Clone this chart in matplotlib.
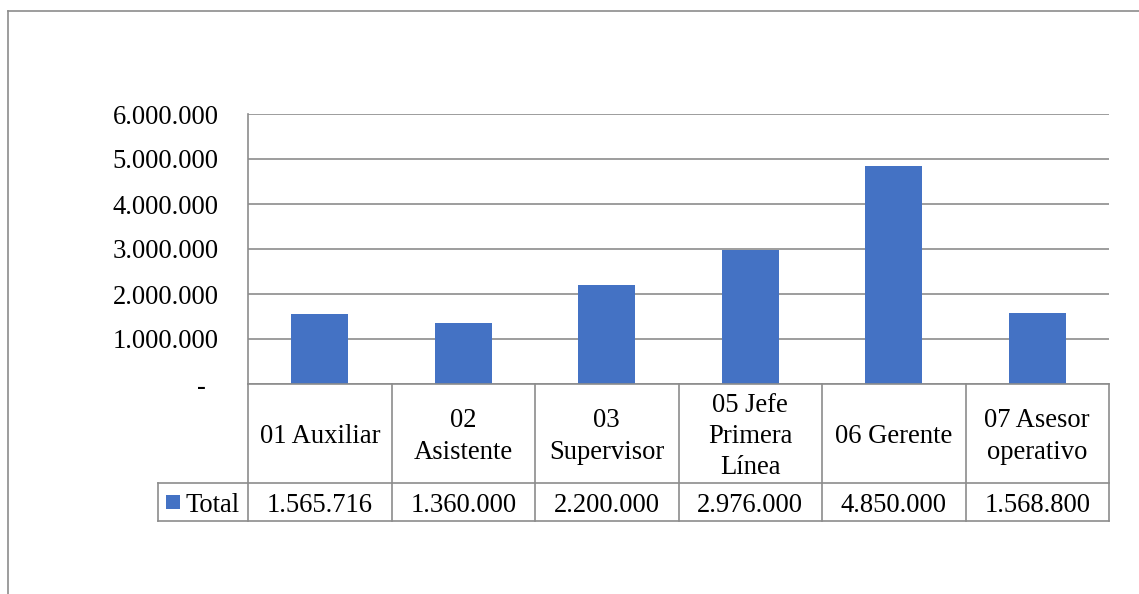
import matplotlib
matplotlib.use("Agg")
import matplotlib.pyplot as plt
from matplotlib.lines import Line2D
from matplotlib.patches import Rectangle
import matplotlib.transforms as mtransforms

categories = ["01 Auxiliar", "02\nAsistente", "03\nSupervisor", "05 Jefe\nPrimera\nLínea",
              "06 Gerente", "07 Asesor\noperativo"]
values = [1565716, 1360000, 2200000, 2976000, 4850000, 1568800]
series_name = "Total"
yticks = [0, 1000000, 2000000, 3000000, 4000000, 5000000, 6000000]

def fmt(v):
    return f"{v:,.0f}".replace(",", ".")

plt.rcParams['font.family'] = ['Liberation Serif', 'DejaVu Serif']
FS = 19.2
BLUE = "#4472C4"
GRID = "#8c8c8c"

W, H = 1139, 594
fig = plt.figure(figsize=(W / 100, H / 100), dpi=100)

def fx(px):
    return px / W

def fy(py):
    return 1 - py / H

ax = fig.add_axes([fx(248), fy(384), fx(1109) - fx(248), fy(114) - fy(384)])
x = list(range(len(categories)))
ax.bar(x, values, width=0.4, color=BLUE, zorder=2)
ax.set_xlim(-0.5, len(categories) - 0.5)
ax.set_ylim(0, 6000000)
ax.set_yticks(yticks)
ax.set_yticklabels([fmt(v) if v else "-  " for v in yticks], fontsize=FS)
ax.tick_params(axis='y', length=0, pad=21)
ax.set_xticks([])
for s in ['top', 'right', 'bottom']:
    ax.spines[s].set_visible(False)
ax.spines['left'].set_color(GRID)
ax.spines['left'].set_linewidth(1.2)
ax.yaxis.grid(True, color=GRID, linewidth=1.2, zorder=0)
ax.set_axisbelow(True)

# data table below the axes: x in data coords, y in axes coords
trans = mtransforms.blended_transform_factory(ax.transData, ax.transAxes)
ah = 384 - 114
y_top = 0.0
y_mid = -(483 - 384) / ah
y_bot = -(521 - 384) / ah
xl, xr = -0.5, len(categories) - 0.5
dx_px = (xr - xl) / (1109 - 248)
x_leg = xl - (248 - 158) * dx_px
off = 3 / ah

lk = dict(color=GRID, linewidth=1.2, transform=trans, clip_on=False)
ax.add_line(Line2D([xl, xr], [y_top, y_top], **lk))
ax.add_line(Line2D([x_leg, xr], [y_mid, y_mid], **lk))
ax.add_line(Line2D([x_leg, xr], [y_bot, y_bot], **lk))
ax.add_line(Line2D([x_leg, x_leg], [y_mid, y_bot], **lk))
for i in range(len(categories) + 1):
    xv = xl + i
    ax.add_line(Line2D([xv, xv], [y_top, y_bot], **lk))

for i, (c, v) in enumerate(zip(categories, values)):
    ax.text(i, (y_top + y_mid) / 2 - off, c, transform=trans, ha='center', va='center',
            fontsize=FS, linespacing=1.32, clip_on=False)
    ax.text(i, (y_mid + y_bot) / 2 - off, fmt(v), transform=trans, ha='center', va='center',
            fontsize=FS, clip_on=False)

# legend key in table
sq = 14 * dx_px
sq_h = 14 / ah
ax.add_patch(Rectangle((x_leg + 8 * dx_px, (y_mid + y_bot) / 2 - sq_h / 2), sq, sq_h,
                       facecolor=BLUE, edgecolor='none', transform=trans, clip_on=False))
ax.text(x_leg + 28 * dx_px, (y_mid + y_bot) / 2 - off, series_name, transform=trans,
        ha='left', va='center', fontsize=FS, clip_on=False)

# chart outer border (top and left visible)
fig.add_artist(Line2D([fx(8), 1], [fy(11), fy(11)], color=GRID, linewidth=1.2,
                      transform=fig.transFigure))
fig.add_artist(Line2D([fx(8), fx(8)], [fy(11), 0], color=GRID, linewidth=1.2,
                      transform=fig.transFigure))

fig.savefig("out.png", dpi=100, facecolor='white')
